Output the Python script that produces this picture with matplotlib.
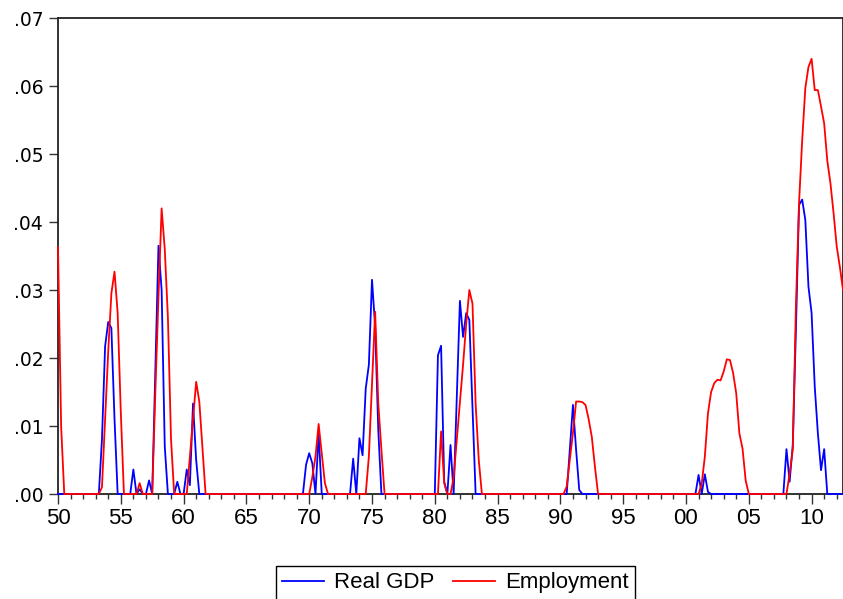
import numpy as np
import matplotlib
matplotlib.use('Agg')
import matplotlib.pyplot as plt
from matplotlib.ticker import MultipleLocator, FixedLocator

plt.rcParams['font.family'] = ['Liberation Sans', 'DejaVu Sans']

# quarterly sample 1950Q1 - 2012Q3, values are zero outside the episodes below
first_year = 1950
n_obs = 251

# Real GDP: (first quarter of episode, values)
gdp_episodes = [
    ('1953Q3', [.008, .0217, .0253, .0244, .011]),
    ('1956Q1', [.0036]),
    ('1956Q3', [.0007]),
    ('1957Q2', [.002]),
    ('1957Q4', [.018, .0365, .030, .007]),
    ('1959Q3', [.0018]),
    ('1960Q2', [.0036, .0013, .0133, .005]),
    ('1969Q4', [.0043, .006, .0045]),
    ('1970Q4', [.0089]),
    ('1973Q3', [.0052]),
    ('1974Q1', [.0082, .0057, .0155, .019, .0315, .0246, .0094]),
    ('1980Q2', [.0204, .0218, .0018]),
    ('1981Q2', [.0072]),
    ('1981Q4', [.014, .0284, .0231, .0266, .0256, .0126]),
    ('1990Q4', [.0065, .0131, .0065, .0006]),
    ('2001Q1', [.0028]),
    ('2001Q3', [.0029, .0003]),
    ('2008Q1', [.0066, .0018, .0072, .024, .0425, .0433, .0403, .0305,
                .0266, .0158, .0089, .0035, .0066]),
]

# Employment
emp_episodes = [
    ('1950Q1', [.0363, .0099]),
    ('1953Q3', [.001, .011, .021, .0295, .0327, .0266, .012]),
    ('1956Q3', [.0016]),
    ('1957Q4', [.015, .029, .042, .036, .026, .008]),
    ('1960Q3', [.0055, .011, .0165, .0136, .0068]),
    ('1970Q2', [.0025, .0055, .0103, .006, .0016]),
    ('1974Q4', [.0055, .016, .0268, .0133, .0065]),
    ('1980Q3', [.0092, .0016]),
    ('1981Q3', [.0024, .008, .0135, .019, .025, .030, .028, .0133, .005]),
    ('1990Q3', [.0011, .005, .009, .0136, .0136, .0135, .0131, .011, .0084, .004]),
    ('2001Q2', [.0015, .0055, .0119, .015, .0163, .0168, .0167, .018, .0198,
                .0197, .0178, .0148, .0089, .0067, .002]),
    ('2008Q2', [.003, .0065, .0275, .0428, .052, .0597, .0628, .064, .0594,
                .0594, .057, .0545, .049, .0457, .0413, .0364, .0334, .030]),
]

year_ticks = list(range(1950, 2011, 5))
year_labels = ['50', '55', '60', '65', '70', '75', '80', '85', '90', '95',
               '00', '05', '10']
y_ticks = [0, .01, .02, .03, .04, .05, .06, .07]
y_labels = ['.00', '.01', '.02', '.03', '.04', '.05', '.06', '.07']


def build_series(episodes):
    s = np.zeros(n_obs)
    for start, vals in episodes:
        yr, q = start.split('Q')
        i = (int(yr) - first_year) * 4 + int(q) - 1
        s[i:i + len(vals)] = vals
    return s


gdp = build_series(gdp_episodes)
emp = build_series(emp_episodes)
dates = first_year + np.arange(n_obs) / 4.0

fig = plt.figure(figsize=(8.43, 5.99), dpi=100)
ax = fig.add_axes([58 / 843, 105 / 599, 785 / 843, 476 / 599])

ax.plot(dates, gdp, color='#0000ff', lw=1.3, label='Real GDP',
        zorder=3, clip_on=False)
ax.plot(dates, emp, color='#ff0000', lw=1.3, label='Employment',
        zorder=3, clip_on=False)

ax.set_xlim(dates[0], dates[-1])
ax.set_ylim(0, .07)

ax.xaxis.set_major_locator(FixedLocator(year_ticks))
ax.set_xticklabels(year_labels, fontsize=16)
ax.xaxis.set_minor_locator(MultipleLocator(1))
ax.set_yticks(y_ticks)
# the y labels in the original are drawn wide, DejaVu is the closest match
ax.set_yticklabels(y_labels, fontsize=13.5, family='DejaVu Sans')

ax.tick_params(axis='both', which='both', direction='out',
               color='#333333', width=1)
ax.tick_params(axis='x', which='major', length=7.2, pad=3)
ax.tick_params(axis='x', which='minor', length=3.6)
ax.tick_params(axis='y', which='major', length=6.7, pad=4)
ax.tick_params(top=False, right=False)

for sp in ax.spines.values():
    sp.set_linewidth(1.3)
    sp.set_color('#222222')

leg = fig.legend(loc='upper center', bbox_to_anchor=(0.5402, 0.0556), ncol=2,
                 fontsize=16, frameon=True, fancybox=False, framealpha=1,
                 edgecolor='black', handlelength=1.9, handletextpad=0.45,
                 columnspacing=0.8, borderpad=0.3, borderaxespad=0)
leg.get_frame().set_linewidth(1.0)

fig.savefig('out.png', dpi=100)
